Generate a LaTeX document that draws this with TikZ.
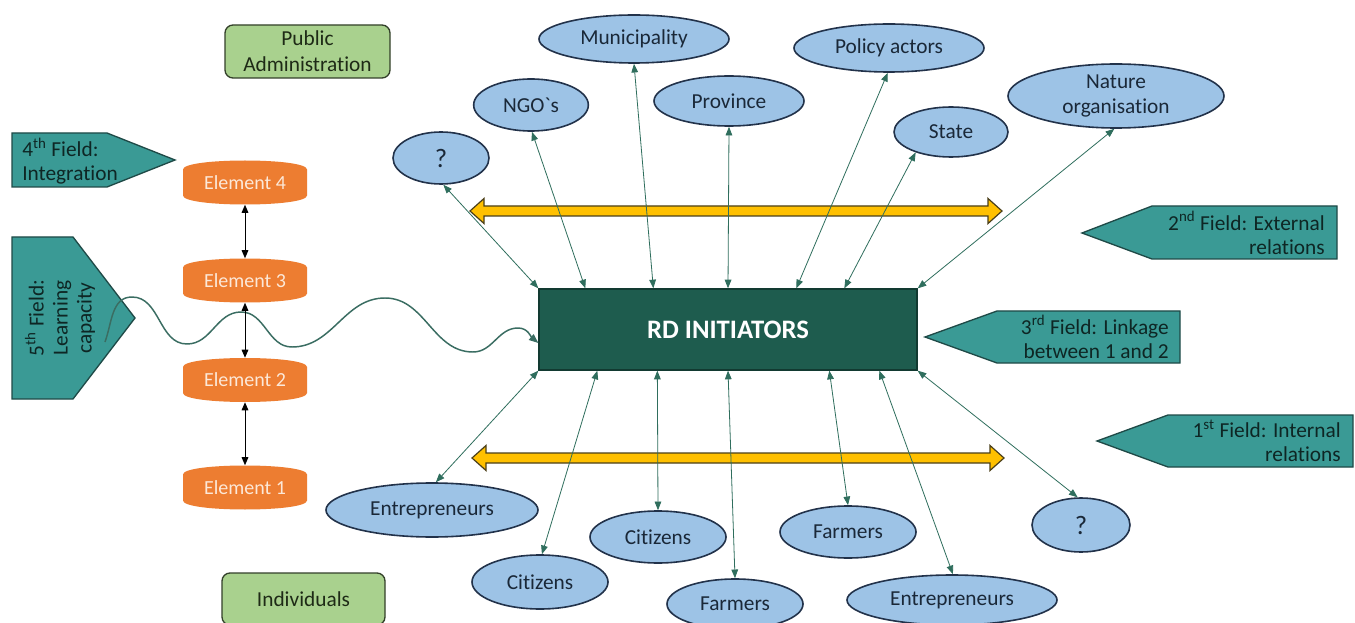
\documentclass[tikz,border=0pt]{standalone}
\usepackage{fontspec}
\setmainfont{Carlito}[Ligatures={TeX,NoCommon}]
\usetikzlibrary{shapes.geometric,arrows.meta,calc}
\definecolor{ellfill}{HTML}{9DC3E6}
\definecolor{elldraw}{HTML}{22324A}
\definecolor{elltext}{HTML}{1A2838}
\definecolor{fieldfill}{HTML}{3A9A95}
\definecolor{fielddraw}{HTML}{1F4A47}
\definecolor{fieldtext}{HTML}{0E2624}
\definecolor{rdfill}{HTML}{1E5C4E}
\definecolor{rddraw}{HTML}{123A31}
\definecolor{elemfill}{HTML}{ED7D31}
\definecolor{elemtext}{HTML}{FCE8D8}
\definecolor{boxfill}{HTML}{A9D18E}
\definecolor{boxdraw}{HTML}{33402A}
\definecolor{boxtext}{HTML}{1E2A16}
\definecolor{connc}{HTML}{2F6E5D}
\definecolor{bandfill}{HTML}{FFC000}
\definecolor{banddraw}{HTML}{4A3F1A}
\definecolor{wavec}{HTML}{3A6D62}
\newcommand{\elemat}[4]{%
  \fill[elemfill] (#2-62,#3+13) .. controls (#2-62,#3+25) and (#2+62,#3+25) .. (#2+62,#3+13) -- (#2+62,#3-13) .. controls (#2+62,#3-25) and (#2-62,#3-25) .. (#2-62,#3-13) -- cycle;
  \node[elemnode] (#1) at (#2,#3) {#4};}
\begin{document}
\begin{tikzpicture}[x=0.75pt,y=0.75pt,
  ell/.style={ellipse, draw=elldraw, line width=1.2pt, fill=ellfill, inner sep=0pt, text=elltext, font=\fontsize{16}{18.5}\selectfont, align=center},
  qmark/.style={font=\fontsize{20}{22}\selectfont},
  conn/.style={draw=connc, line width=0.6pt, {Triangle[length=6.5pt,width=5pt]}-{Triangle[length=6.5pt,width=5pt]}},
  field/.style={fill=fieldfill, draw=fielddraw, line width=1pt, line join=miter},
  fieldtxt/.style={text=fieldtext, font=\fontsize{16}{18}\selectfont, inner sep=0pt},
  elemnode/.style={minimum width=93pt, minimum height=33pt, inner sep=0pt, text=elemtext, font=\fontsize{15}{17}\selectfont},
  gbox/.style={rectangle, rounded corners=6pt, draw=boxdraw, line width=1pt, fill=boxfill, text=boxtext, font=\fontsize{16}{19.5}\selectfont, align=center, inner sep=0pt},
  band/.style={fill=bandfill, draw=banddraw, line width=0.9pt, line join=miter},
  elarrow/.style={draw=black, line width=0.7pt, {Triangle[length=6pt,width=5pt]}-{Triangle[length=6pt,width=5pt]}},
  wave/.style={draw=wavec, line width=1.1pt, -{Triangle[length=7pt,width=5.5pt]}}
]
\fill[white] (0,0) rectangle (1355,-623);
\useasboundingbox (0,0) rectangle (1355,-623);

% yellow bands
\path[band] (470,-211) -- (484,-198.5) -- (484,-206) -- (988,-206) -- (988,-198.5) -- (1002,-211) -- (988,-223.5) -- (988,-216) -- (484,-216) -- (484,-223.5) -- cycle;
\path[band] (472,-458) -- (486,-445.5) -- (486,-453) -- (990,-453) -- (990,-445.5) -- (1004,-458) -- (990,-470.5) -- (990,-463) -- (486,-463) -- (486,-470.5) -- cycle;

% fields
\path[field] (1082,-233) -- (1152,-206) -- (1337,-206) -- (1337,-259) -- (1152,-259) -- cycle;
\path[field] (925,-337) -- (997,-311) -- (1180,-311) -- (1180,-363) -- (997,-363) -- cycle;
\path[field] (1097,-441) -- (1168,-415) -- (1353,-415) -- (1353,-467) -- (1168,-467) -- cycle;
\path[field] (12,-133) -- (107,-133) -- (175,-160) -- (107,-187) -- (12,-187) -- cycle;
\path[field] (12,-237) -- (73,-237) -- (135,-318) -- (73,-399) -- (12,-399) -- cycle;
\node[fieldtxt, anchor=east, align=right] (t2) at (1325,-233) {2\textsuperscript{nd} Field: External\\relations};
\node[fieldtxt, anchor=east, align=right] (t3) at (1169,-337) {3\textsuperscript{rd} Field: Linkage\\between 1 and 2};
\node[fieldtxt, anchor=east, align=right] (t1) at (1341,-441) {1\textsuperscript{st} Field: Internal\\relations};
\node[fieldtxt, anchor=west, align=left] (t4) at (22,-161) {4\textsuperscript{th} Field:\\Integration};
\node[fieldtxt, rotate=90, align=center] (t5) at (60,-318) {5\textsuperscript{th} Field:\\Learning\\capacity};
\coordinate (wstart) at (105,-342);

% green boxes
\node[gbox, minimum width=123.75pt, minimum height=39.75pt] (pa) at (307.5,-51.5) {Public\\Administration};
\node[gbox, minimum width=122.25pt, minimum height=39pt] (ind) at (303.5,-599) {Individuals};

% ellipses top
\node[ell, qmark, minimum width=72pt, minimum height=39pt] (qa) at (441,-158) {?};
\node[ell, minimum width=86pt, minimum height=39pt] (ngo) at (531,-105) {NGO\textasciigrave s};
\node[ell, minimum width=142.5pt, minimum height=36pt] (mun) at (634,-39) {Municipality};
\node[ell, minimum width=112.5pt, minimum height=37.5pt] (prov) at (729,-101) {Province};
\node[ell, minimum width=142.5pt, minimum height=36pt] (pol) at (889,-48) {Policy actors};
\node[ell, minimum width=85.5pt, minimum height=37.5pt] (state) at (951,-132) {State};
\node[ell, minimum width=162pt, minimum height=48pt] (nat) at (1116,-96) {Nature\\organisation};
% ellipses bottom
\node[ell, minimum width=159pt, minimum height=40.5pt] (entl) at (432,-510) {Entrepreneurs};
\node[ell, minimum width=102pt, minimum height=40.5pt] (citl) at (540,-582) {Citizens};
\node[ell, minimum width=102pt, minimum height=39pt] (citm) at (658,-537) {Citizens};
\node[ell, minimum width=102pt, minimum height=37.5pt] (farl) at (735,-604) {Farmers};
\node[ell, minimum width=102pt, minimum height=39pt] (farm) at (848,-532) {Farmers};
\node[ell, minimum width=157.5pt, minimum height=37.5pt] (entr) at (952,-600) {Entrepreneurs};
\node[ell, qmark, minimum width=73.5pt, minimum height=40.5pt] (qb) at (1081,-525) {?};

% central box
\node[rectangle, draw=rddraw, line width=1pt, fill=rdfill, minimum width=283.5pt, minimum height=60.75pt, inner sep=0pt, text=white, font=\fontsize{20}{24}\selectfont\bfseries] (rd) at (728,-329.5) {RD INITIATORS};

% connectors top
\draw[conn] (rd.north west) -- (qa.-85);
\draw[conn] ($(rd.north west)+(47,0)$) -- (ngo.-88);
\draw[conn] ($(rd.north west)+(115,0)$) -- (mun.-90);
\draw[conn] (rd.north) -- (prov.-90);
\draw[conn] ($(rd.north west)+(258,0)$) -- (pol.-93);
\draw[conn] ($(rd.north west)+(306,0)$) -- (state.-150);
\draw[conn] (rd.north east) -- (nat.-93);
% connectors bottom
\draw[conn] (rd.south west) -- (entl.82);
\draw[conn] ($(rd.south west)+(59,0)$) -- (citl.86);
\draw[conn] ($(rd.south west)+(119,0)$) -- (citm.90);
\draw[conn] (rd.south) -- (farl.90);
\draw[conn] ($(rd.south west)+(291,0)$) -- (farm.90);
\draw[conn] ($(rd.south west)+(341,0)$) -- (entr.88);
\draw[conn] (rd.south east) -- (qb.97);

% elements
\elemat{e4}{245}{-182.5}{Element 4}
\elemat{e3}{245}{-280.5}{Element 3}
\elemat{e2}{245}{-380}{Element 2}
\elemat{e1}{245}{-487.5}{Element 1}

% wave
\draw[wave] (wstart) to[out=70,in=180] (132,-297) to[out=0,in=180] (187,-344) to[out=0,in=180] (241,-312) to[out=0,in=180] (292,-347) to[out=0,in=180] (385,-298) to[out=0,in=180] (473,-352) to[out=0,in=180] (518,-328) to[out=0,in=140] ($(rd.west)+(0,-13.5)$);

\draw[elarrow] (e4.south) -- (e3.north);
\draw[elarrow] (e3.south) -- (e2.north);
\draw[elarrow] (e2.south) -- (e1.north);
\end{tikzpicture}
\end{document}
